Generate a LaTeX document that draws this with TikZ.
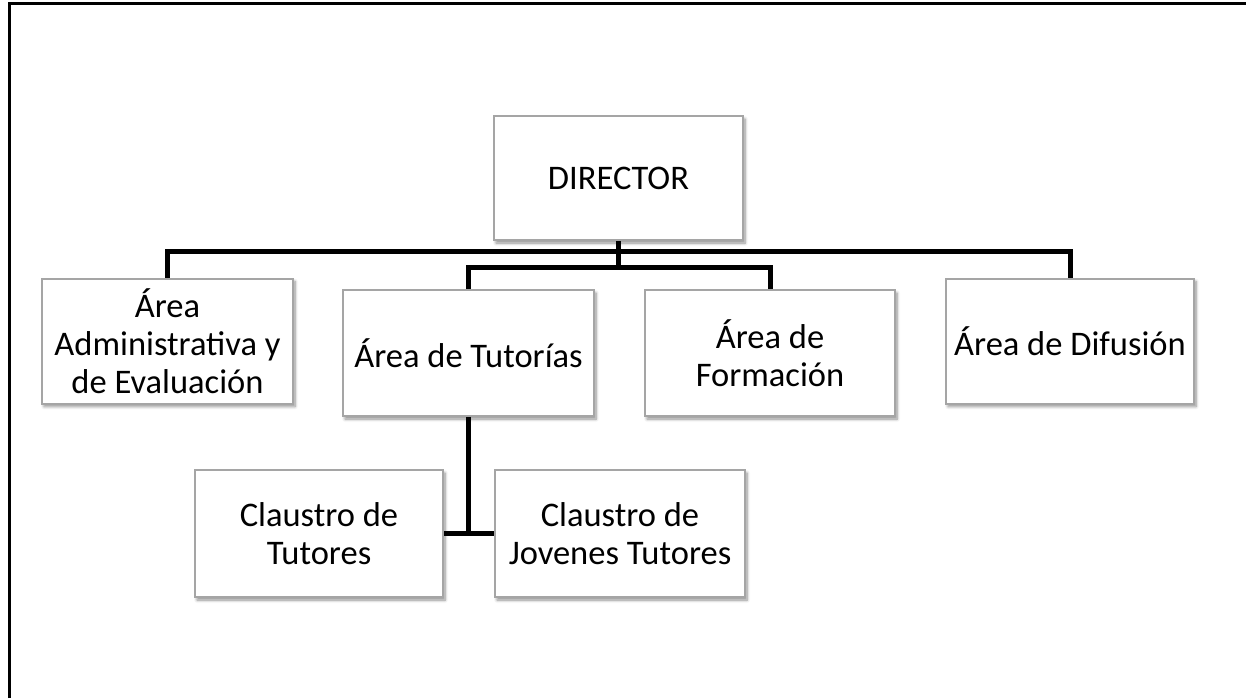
\documentclass[tikz,border=0pt]{standalone}
\usepackage{fontspec}
\setmainfont{Carlito}
\usetikzlibrary{shadows.blur}
\definecolor{boxline}{RGB}{165,165,165}
\tikzset{
  x=1pt, y=-1pt,
  orgbox/.style={draw=boxline, line width=2pt, fill=white, rectangle,
    align=center, inner sep=2pt,
    font=\fontsize{34.5}{38}\selectfont,
    blur shadow={shadow xshift=2pt, shadow yshift=-3pt, shadow blur steps=6, shadow opacity=45, shadow blur radius=3pt}},
  conn/.style={line width=5pt, black},
  frameline/.style={line width=3pt, black}
}
\begin{document}
\begin{tikzpicture}
\useasboundingbox (0,0) rectangle (1246,698);
\coordinate (fl) at (9,698);
\coordinate (fc) at (9,4);
\coordinate (fr) at (1246,4);
\draw[frameline] (fl) -- (fc) -- (fr);

\node[orgbox, minimum width=249pt, minimum height=124pt] (dir) at (618.5,178) {DIRECTOR};
\node[orgbox, minimum width=251pt, minimum height=125pt] (adm) at (167.5,341) {Área\\Administrativa y\\de Evaluación};
\node[orgbox, minimum width=251pt, minimum height=126pt] (tut) at (468.5,353) {Área de Tutorías};
\node[orgbox, minimum width=250pt, minimum height=126pt] (form) at (770,353) {Área de\\Formación};
\node[orgbox, minimum width=248pt, minimum height=125pt] (dif) at (1070,341) {Área de Difusión};
\node[orgbox, minimum width=248pt, minimum height=127pt] (ct) at (319,533.5) {Claustro de\\Tutores};
\node[orgbox, minimum width=250pt, minimum height=127pt] (jt) at (620,533.5) {Claustro de\\Jovenes Tutores};

\coordinate (jn) at (618.5,267);
\draw[conn] (adm.north) -- ++(0,-26) -| (dif.north);
\draw[conn] (dir.south) -- (jn);
\draw[conn] (tut.north) |- (jn) -| (form.north);
\draw[conn] (ct.east) -- (jt.west);
\draw[conn] (tut.south) -- (tut.south |- ct.east);
\end{tikzpicture}
\end{document}
